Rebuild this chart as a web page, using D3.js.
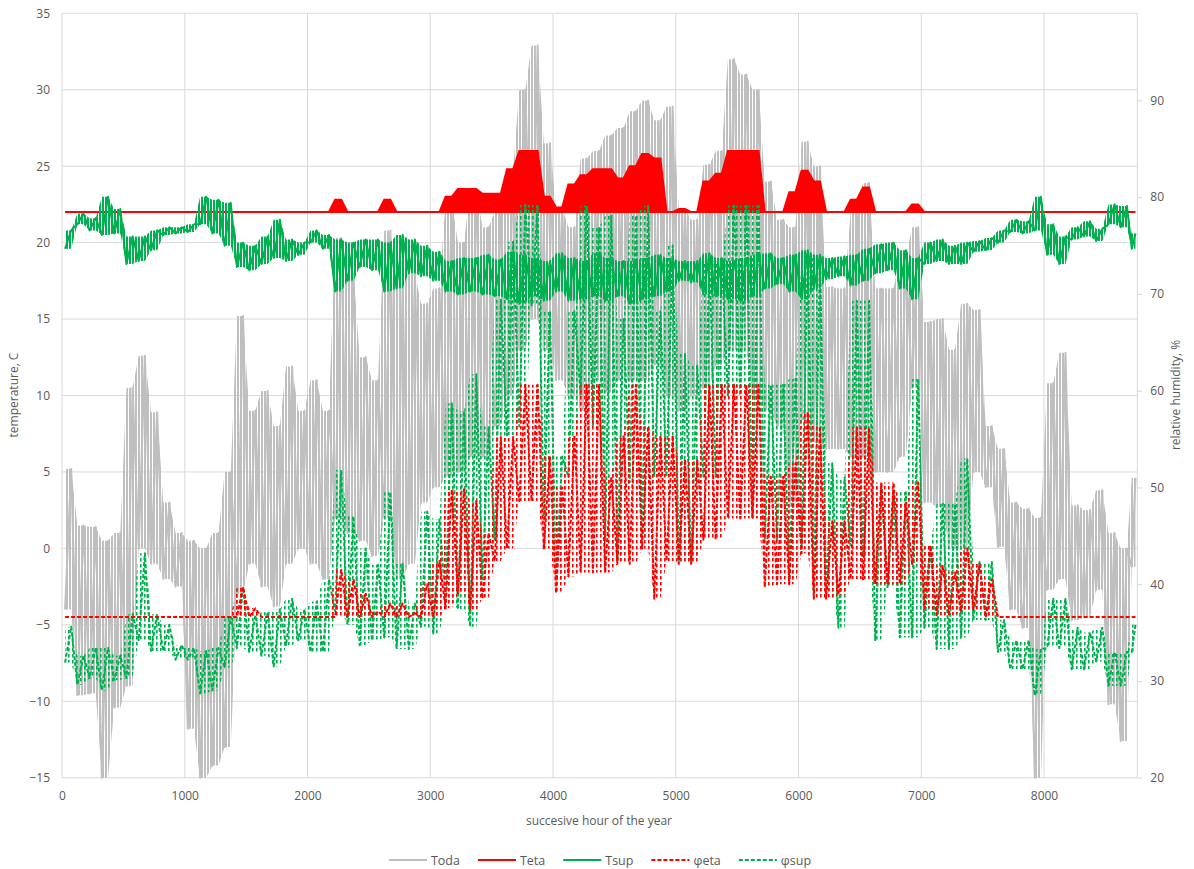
<!DOCTYPE html>
<html>
<head>
<meta charset="utf-8">
<script src="https://cdn.jsdelivr.net/npm/d3@7"></script>
<style>
  body { margin: 0; background: #fff; }
  text { font-family: "Open Sans", sans-serif; fill: #595959; }
</style>
</head>
<body>
<svg id="chart" width="1194" height="869"></svg>
<script>
// hour bins of 100 h, each with low / high value
var binHours = d3.range(0, 8760, 100);

var xTicks = [0, 1000, 2000, 3000, 4000, 5000, 6000, 7000, 8000];
var tempTicks = [-15, -10, -5, 0, 5, 10, 15, 20, 25, 30, 35];
var humTicks = [20, 30, 40, 50, 60, 70, 80, 90];

var todaLo = [-4.0,-9.6,-9.5,-15,-10.4,-9.0,0.0,-1.0,-2.0,-2.5,
  -11.8,-15,-14.2,-13,-3.0,-1.0,-2.5,-3.8,-1.0,0.0,
  -1.0,-2.0,2.0,1.0,0.5,-0.5,2.0,-2.0,-1.0,3.0,
  4.0,4.7,5.0,6.0,6.0,8.0,10.0,13.0,15.0,13.0,
  11.0,10.0,9.0,11.0,10.2,11.0,11.0,11.0,12.0,10.0,
  9.0,10.0,10.5,12.0,13.0,13.0,10.0,9.0,8.0,3.0,
  8.4,7.0,6.5,6.5,6.0,6.0,5.0,5.0,6.0,10.5,
  3.0,2.7,0.0,0.0,5.0,4.0,0.1,-4.0,-5.2,-15,
  -2.7,-2.0,-4.7,-4.5,-2.7,-10.2,-12.6,-1.2];
var todaHi = [5.2,1.5,1.4,0.5,1.0,10.5,12.6,8.9,3.0,1.0,
  0.5,0.0,1.0,5.0,15.2,9.0,10.3,8.0,11.9,9.0,
  11.0,9.0,20.3,18.0,12.5,11.0,20.8,17.0,18.0,16.0,
  17.0,22.8,20.0,23.4,21.0,22.0,24.7,30.0,32.9,26.5,
  22.3,21.0,25.5,26.0,27.0,27.5,28.6,29.3,28.0,28.9,
  22.2,21.5,25.1,26.0,32.0,31.0,30.0,24.0,21.5,21.0,
  26.6,25.0,17.1,17.0,22.0,23.9,17.0,17.0,19.0,21.0,
  14.8,15.0,13.0,16.0,15.6,8.0,6.5,3.0,2.6,2.0,
  10.8,12.8,2.8,2.5,3.8,1.0,0.0,4.6];

var tetaSet = 22;
var tetaHi = [22,22,22,22,22,22,22,22,22,22,
  22,22,22,22,22,22,22,22,22,22,
  22,22,22.8,22,22,22,22.8,22,22,22,
  22,23.0,23.5,23.5,23.2,23.2,24.8,26.0,26.0,23.0,
  22.3,23.8,24.4,24.8,24.8,24.2,25.0,25.8,25.5,22.0,
  22.2,22.0,24.0,24.5,26.0,26.0,26.0,22.0,22.0,23.3,
  24.7,24.0,22,22,22.8,23.6,22,22,22,22.5,
  22,22,22,22,22,22,22,22,22,22,
  22,22,22,22,22,22,22,22];

var tsupLo = [19.6,21.2,20.8,20.5,20.6,18.6,18.8,19.5,20.5,20.6,
  20.7,21.2,20.6,19.8,18.4,18.2,18.6,19.0,18.8,19.2,
  20.0,19.6,16.8,17.5,18.4,18.2,16.8,17.0,18.0,17.8,
  17.5,16.8,16.6,16.8,16.6,16.5,16.3,16.0,16.5,16.2,
  16.8,16.2,16.3,16.5,16.2,16.5,16.0,16.3,16.5,16.8,
  17.5,17.4,16.6,16.5,16.3,16.2,16.5,17.0,17.3,16.8,
  16.3,17.0,17.6,17.8,17.2,17.5,18.0,18.2,17.0,16.3,
  18.6,18.8,18.6,18.6,19.4,19.5,20.0,20.7,20.6,20.8,
  19.2,18.6,20.2,20.4,20.1,21.2,21.0,19.6];
var tsupHi = [20.8,21.9,21.6,23.0,22.2,20.4,20.4,20.8,21.0,21.0,
  21.2,23.0,22.8,22.6,20.0,19.8,20.4,21.5,20.2,20.0,
  20.8,20.5,20.2,20.0,20.2,20.2,20.0,20.5,20.2,19.8,
  19.4,18.8,19.0,19.0,19.2,18.9,19.4,19.2,19.0,18.8,
  19.3,19.0,18.8,19.3,19.0,18.8,18.8,19.0,19.2,19.0,
  18.8,18.8,19.3,19.0,18.8,19.0,19.2,19.3,19.0,19.2,
  19.5,19.2,19.0,19.1,19.2,19.6,19.9,20.0,19.5,19.0,
  20.0,20.2,19.8,20.0,20.1,20.3,20.8,21.5,21.4,23.0,
  21.2,20.4,21.0,21.4,20.9,22.5,22.4,20.6];

// relative humidity, %
var phiEtaLo = [36.6,36.6,36.6,36.6,36.6,36.6,36.6,36.6,36.6,36.6,
  36.6,36.6,36.6,36.6,36.6,36.6,36.6,36.6,36.6,36.6,
  36.6,36.6,36.6,36.6,36.6,36.6,36.6,36.6,36.6,36.6,
  36.6,37.5,39.1,37.4,38.5,42.4,43.7,48.6,48.6,43.7,
  39.1,40.8,41.2,41.2,41.2,42.1,42.1,43.7,38.5,42.4,
  42.1,42.1,44.6,44.6,46.8,46.8,46.8,39.7,40.0,40.0,
  43.2,38.5,38.5,38.9,40.5,40.5,40.0,40.0,40.0,42.1,
  37.5,36.8,36.8,37.2,37.4,36.6,36.6,36.6,36.6,36.6,
  36.6,36.6,36.6,36.6,36.6,36.6,36.6,36.6];
var phiEtaHi = [36.6,36.6,36.6,36.6,36.6,36.6,36.6,36.6,36.6,36.6,
  36.6,36.6,36.6,36.6,39.7,37.5,36.6,36.6,36.6,36.6,
  36.6,36.6,41.5,40.5,39.0,37.2,38.0,38.0,37.0,40.0,
  42.4,49.8,49.8,48.6,45.3,55.2,55.2,60.6,60.6,53.2,
  50.0,55.4,60.6,60.6,51.1,55.4,60.6,56.3,55.4,55.4,
  52.9,52.9,60.6,60.6,60.6,60.6,60.6,51.1,51.1,52.5,
  57.8,56.3,46.5,46.5,56.2,56.2,50.5,50.5,48.4,50.5,
  44.0,41.9,41.2,43.7,42.1,40.5,36.6,36.6,36.6,36.6,
  36.6,36.6,36.6,36.6,36.6,36.6,36.6,36.6];

var phiSupLo = [31.9,29.6,30.3,29.0,30.1,30.3,34.2,33.1,33.1,32.2,
  32.2,28.7,29.0,31.4,33.4,33.0,32.6,31.5,33.7,34.2,
  33.0,33.0,37.2,35.8,33.7,34.2,34.5,33.3,33.3,35.6,
  34.9,38.2,37.4,35.6,40.5,44.6,55.4,56.3,68.8,46.7,
  40.4,51.1,59.6,56.3,44.6,42.4,50.5,44.6,51.1,51.1,
  42.4,42.4,51.1,51.1,59.5,59.5,46.9,44.6,44.6,40.5,
  44.0,39.3,39.3,35.5,44.0,42.9,34.2,39.7,34.5,34.5,
  35.5,33.3,33.3,34.5,36.3,36.3,33.0,31.2,31.2,28.5,
  33.4,33.4,31.2,31.2,32.0,29.5,29.5,33.0];
var phiSupHi = [35.6,32.6,33.4,33.4,32.6,36.9,43.2,36.9,35.8,33.7,
  33.4,33.1,33.4,36.6,39.7,36.8,37.1,37.4,38.5,37.4,
  38.2,40.5,51.8,47.0,43.7,42.0,49.5,42.1,38.0,47.5,
  46.7,58.7,57.9,61.7,56.3,69.4,75.4,79.2,79.2,68.2,
  53.2,68.2,79.1,76.9,78.1,67.4,78.1,79.1,68.2,75.0,
  63.8,62.6,73.4,73.4,79.1,79.1,79.1,60.6,60.6,61.2,
  74.0,74.0,52.5,51.0,69.3,69.3,50.0,49.5,49.5,61.2,
  44.0,48.3,48.3,53.0,42.3,42.3,36.3,34.2,34.2,33.3,
  38.5,38.5,35.5,35.0,35.5,33.0,33.0,35.8];

var names = ["Toda", "Teta", "Tsup", "\u03c6eta", "\u03c6sup"];
var colors = ['#bfbfbf', '#ff0000', '#00b050', '#ff0000', '#00b050'];
var dashed = [false, false, false, true, true];

var svg = d3.select('#chart');
var plotL = 62, plotR = 1137.3, plotT = 13.3, plotB = 777.7;

var x = d3.scaleLinear().domain([0, 8760]).range([plotL, plotR]);
var yT = d3.scaleLinear().domain([-15, 35]).range([plotB, plotT]);
var yH = d3.scaleLinear().domain([20, 99]).range([plotB, plotT]);

// hatch patterns stand in for the dense hourly oscillation
var defs = svg.append('defs');
function hatch(id, color, w, bar, h, dash) {
  var p = defs.append('pattern').attr('id', id)
    .attr('patternUnits', 'userSpaceOnUse')
    .attr('width', w).attr('height', h);
  p.append('rect').attr('x', 0).attr('y', 0)
    .attr('width', bar).attr('height', dash)
    .style('fill', color);
}
hatch('h-toda', '#bfbfbf', 3, 2, 10, 10);
hatch('h-tsup', '#00b050', 3, 2, 10, 10);
hatch('h-peta', '#ff0000', 4, 1.6, 6, 3.5);
hatch('h-psup', '#00b050', 4, 1.6, 6, 3.5);

// grid
svg.append('g')
  .selectAll('line')
  .data(tempTicks)
  .enter().append('line')
  .attr('x1', plotL).attr('x2', plotR)
  .attr('y1', d => yT(d)).attr('y2', d => yT(d))
  .style('stroke', '#d9d9d9').style('stroke-width', 1);
svg.append('g')
  .selectAll('line')
  .data(xTicks)
  .enter().append('line')
  .attr('x1', d => x(d)).attr('x2', d => x(d))
  .attr('y1', plotT).attr('y2', plotB)
  .style('stroke', '#d9d9d9').style('stroke-width', 1);
svg.append('line')
  .attr('x1', plotR).attr('x2', plotR).attr('y1', plotT).attr('y2', plotB)
  .style('stroke', '#d9d9d9');

// axes
var axL = svg.append('g')
  .attr('transform', 'translate(' + plotL + ',0)')
  .call(d3.axisLeft(yT).tickValues(tempTicks).tickSize(0).tickPadding(12));
var axB = svg.append('g')
  .attr('transform', 'translate(0,' + plotB + ')')
  .call(d3.axisBottom(x).tickValues(xTicks).tickSize(0).tickPadding(14).tickFormat(d3.format('d')));
var axR = svg.append('g')
  .attr('transform', 'translate(' + plotR + ',0)')
  .call(d3.axisRight(yH).tickValues(humTicks).tickSize(5).tickPadding(8));
[axL, axB, axR].forEach(function (a) {
  a.select('.domain').remove();
  a.selectAll('text').style('font-size', '12px').style('fill', '#595959')
    .style('font-family', '"Open Sans", sans-serif');
  a.selectAll('line').style('stroke', '#d9d9d9');
});

// two points per bin: low at the first quarter, high at the third
function binPts(lo, hi) {
  var pts = [];
  binHours.forEach(function (h, i) {
    var w = Math.min(100, 8760 - h);
    pts.push({h: h + 0.25 * w, lo: lo[i], hi: hi[i], v: lo[i]});
    pts.push({h: h + 0.75 * w, lo: lo[i], hi: hi[i], v: hi[i]});
  });
  return pts;
}

function band(lo, hi, y, color, fill, dash) {
  var pts = binPts(lo, hi);
  var area = d3.area().x(d => x(d.h)).y0(d => y(d.lo)).y1(d => y(d.hi));
  var line = d3.line().x(d => x(d.h)).y(d => y(d.v));
  svg.append('path').datum(pts).attr('d', area)
    .style('fill', fill).style('stroke', 'none');
  svg.append('path').datum(pts).attr('d', line)
    .style('fill', 'none').style('stroke', color).style('stroke-width', 2)
    .style('stroke-linejoin', 'round')
    .style('stroke-dasharray', dash ? '4,2' : null);
}

var tetaLo = tetaHi.map(function () { return tetaSet; });

band(todaLo, todaHi, yT, colors[0], 'url(#h-toda)', false);
(function () {
  var pts = binPts(tetaLo, tetaHi);
  var area = d3.area().x(d => x(d.h)).y0(d => yT(d.lo)).y1(d => yT(d.hi));
  svg.append('path').datum(pts).attr('d', area)
    .style('fill', colors[1]).style('stroke', colors[1]).style('stroke-width', 2);
})();
band(tsupLo, tsupHi, yT, colors[2], 'url(#h-tsup)', false);
band(phiSupLo, phiSupHi, yH, colors[4], 'url(#h-psup)', true);
band(phiEtaLo, phiEtaHi, yH, colors[3], 'url(#h-peta)', true);

// titles
svg.append('text')
  .attr('transform', 'translate(18,395) rotate(-90)')
  .attr('text-anchor', 'middle')
  .style('font-size', '12px')
  .text('temperature, C');
svg.append('text')
  .attr('transform', 'translate(1180,395) rotate(-90)')
  .attr('text-anchor', 'middle')
  .style('font-size', '12px')
  .text('relative humidity, %');
svg.append('text')
  .attr('x', 599).attr('y', 825)
  .attr('text-anchor', 'middle')
  .style('font-size', '12px')
  .text('succesive hour of the year');

// legend
var leg = svg.append('g');
var lx = 0;
names.forEach(function (n, i) {
  var g = leg.append('g').attr('transform', 'translate(' + lx + ',0)');
  g.append('line').attr('x1', 0).attr('x2', 38).attr('y1', 0).attr('y2', 0)
    .style('stroke', colors[i]).style('stroke-width', 2)
    .style('stroke-dasharray', dashed[i] ? '4,2' : null);
  var t = g.append('text').attr('x', 42).attr('y', 4.5)
    .style('font-size', '12.5px').text(n);
  lx += 42 + t.node().getComputedTextLength() + 18;
});
leg.attr('transform', 'translate(' + (600 - (lx - 18) / 2) + ',860)');
</script>
</body>
</html>
